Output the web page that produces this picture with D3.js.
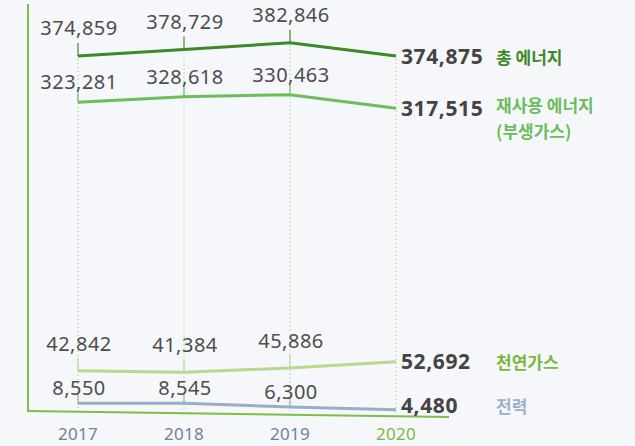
<!DOCTYPE html>
<html>
<head>
<meta charset="utf-8">
<script src="https://cdn.jsdelivr.net/npm/d3@7"></script>
<style>
  html, body { margin: 0; padding: 0; background: #f6f7fb; }
  svg { display: block; }
  .val { font-family: "Noto Sans", "Open Sans", sans-serif; fill: #4d4d4d; letter-spacing: 0.5px; }
  .end { font-family: "Noto Sans", "Open Sans", sans-serif; font-weight: 700; fill: #444; letter-spacing: 0.6px; }
  .name { font-family: "Noto Sans CJK KR", sans-serif; font-weight: 700; }
  .year { font-family: "Noto Sans", "Open Sans", sans-serif; fill: #718196; letter-spacing: 0.3px; }
</style>
</head>
<body>
<div id="chart"></div>
<script>
// Energy use by source, 2017-2020
var years = ["2017", "2018", "2019", "2020"];
var totalEnergy = [374859, 378729, 382846, 374875];
var reusedEnergy = [323281, 328618, 330463, 317515];
var naturalGas = [42842, 41384, 45886, 52692];
var electricity = [8550, 8545, 6300, 4480];
var seriesNames = [["총 에너지"], ["재사용 에너지", "(부생가스)"], ["천연가스"], ["전력"]];

var W = 635, H = 446;

var svg = d3.select("#chart").append("svg")
    .attr("width", W).attr("height", H);

var x = d3.scalePoint().domain(years).range([78, 396]);

// broken value axis: each band of the chart gets its own stretch
var y = d3.scaleLinear()
    .domain([0, 10000, 60000, 310000, 335000, 370000, 390000])
    .range([417, 401, 355, 116, 90, 64, 31]);

var series = [
    { values: totalEnergy, color: "#3b8a26", nameColor: "#3b8a26", labelDy: -21, tick: 13, endDy: 8 },
    { values: reusedEnergy, color: "#6cbd5b", nameColor: "#6cbd5b", labelDy: -13, tick: 10, endDy: 8 },
    { values: naturalGas, color: "#b7d98f", nameColor: "#79b840", labelDy: -20, tick: 13, endDy: 7 },
    { values: electricity, color: "#98aec7", nameColor: "#9db1c9", labelDy: -8, tick: 9, endDy: 3 }
];

// axis frame
var axisColor = "#79bf48";
svg.append("line")
    .attr("x1", 28).attr("x2", 28).attr("y1", 4).attr("y2", 411)
    .attr("stroke", axisColor).attr("stroke-width", 2);
svg.append("line")
    .attr("x1", 27).attr("x2", 449).attr("y1", 411).attr("y2", 417)
    .attr("stroke", axisColor).attr("stroke-width", 2);

// dotted guides, from the top line down to the baseline
svg.append("g").selectAll("line")
    .data(years)
    .join("line")
    .attr("x1", function (d) { return x(d); })
    .attr("x2", function (d) { return x(d); })
    .attr("y1", function (d, i) { return y(totalEnergy[i]) + 3; })
    .attr("y2", function (d, i) { return 411 + 6 * (x(d) - 28) / 421 - 1; })
    .attr("stroke", "#8cc85e")
    .attr("stroke-width", 1)
    .attr("stroke-dasharray", "1,3");

var line = d3.line()
    .x(function (d, i) { return x(years[i]); })
    .y(function (d) { return y(d); });

series.forEach(function (s, si) {
    var g = svg.append("g");

    // short solid ticks above the points (not at the last year)
    g.selectAll("line.tick")
        .data(s.values.slice(0, 3))
        .join("line")
        .attr("class", "tick")
        .attr("x1", function (d, i) { return x(years[i]); })
        .attr("x2", function (d, i) { return x(years[i]); })
        .attr("y1", function (d) { return y(d) - s.tick; })
        .attr("y2", function (d) { return y(d); })
        .attr("stroke", s.color)
        .attr("stroke-width", 1.2);

    g.append("path")
        .datum(s.values)
        .attr("d", line)
        .attr("fill", "none")
        .attr("stroke", s.color)
        .attr("stroke-width", 3)
        .attr("stroke-linejoin", "round");

    g.selectAll("text.val")
        .data(s.values.slice(0, 3))
        .join("text")
        .attr("class", "val")
        .attr("x", function (d, i) { return x(years[i]) + 1; })
        .attr("y", function (d) { return y(d) + s.labelDy; })
        .attr("text-anchor", "middle")
        .attr("font-size", 20)
        .text(function (d) { return d3.format(",")(d); });

    var last = s.values[s.values.length - 1];
    g.append("text")
        .attr("class", "end")
        .attr("x", x(years[3]) + 5)
        .attr("y", y(last) + s.endDy)
        .attr("font-size", 21)
        .text(d3.format(",")(last));

    g.append("text")
        .attr("class", "name")
        .attr("x", 496)
        .attr("y", y(last) + s.endDy - (seriesNames[si].length > 1 ? 4 : 0))
        .attr("font-size", 17)
        .attr("fill", s.nameColor)
        .selectAll("tspan")
        .data(seriesNames[si])
        .join("tspan")
        .attr("x", 496)
        .attr("dy", function (d, i) { return i === 0 ? 0 : 26; })
        .text(function (d) { return d; });
});

// year labels
svg.append("g").selectAll("text")
    .data(years)
    .join("text")
    .attr("class", "year")
    .attr("x", function (d) { return x(d); })
    .attr("y", 440)
    .attr("text-anchor", "middle")
    .attr("font-size", 17)
    .style("fill", function (d, i) { return i === years.length - 1 ? "#79b840" : null; })
    .text(function (d) { return d; });
</script>
</body>
</html>
